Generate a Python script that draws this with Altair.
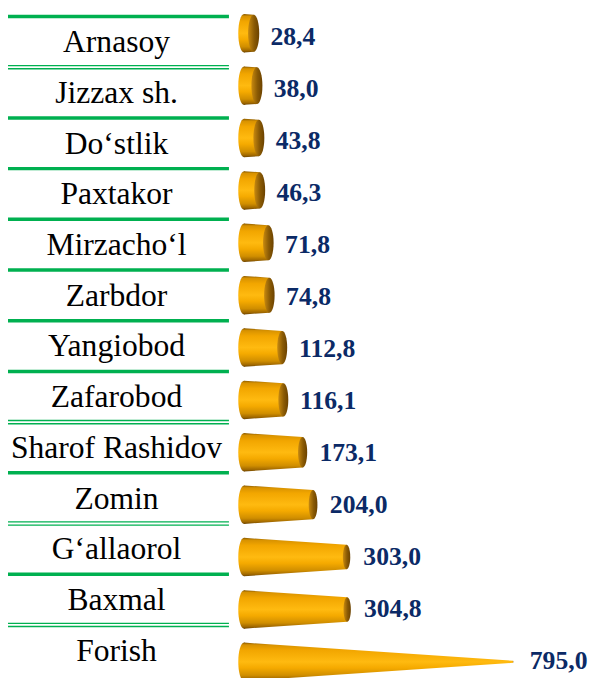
import altair as alt
import pandas as pd

categories = ["Arnasoy", "Jizzax sh.", "Do\u2018stlik", "Paxtakor", "Mirzacho\u2018l", "Zarbdor",
              "Yangiobod", "Zafarobod", "Sharof Rashidov", "Zomin", "G\u2018allaorol", "Baxmal", "Forish"]
values = [28.4, 38.0, 43.8, 46.3, 71.8, 74.8, 112.8, 116.1, 173.1, 204.0, 303.0, 304.8, 795.0]
line_styles = ["single", "double", "single", "single", "single", "single", "single",
               "single", "double", "single", "double", "single", "double"]

n = len(categories)
rows = pd.DataFrame({"cat": categories, "idx": list(range(n)), "v": values})
cone = pd.DataFrame({
    "cat": [c for c in categories for _ in (0, 1)],
    "idx": [i for i in range(n) for _ in (0, 1)],
    "pos": [p for v in values for p in (0.0, v)],
})
lines = pd.DataFrame({"k": list(range(n)), "style": line_styles})

W, H = 588, 670
K = 840          # value at which the cone converges
HALF = 0.367     # half cone height in row units
BASE = 39        # cone base height in px
SERIF = "'Liberation Serif', 'Times New Roman', Times, 'DejaVu Serif', serif"

xs = alt.Scale(domain=[0, max(values)], range=[239.3, 512], nice=False, zero=False)
ys_cone = alt.Scale(domain=[0, n - 1], range=[21, 658.2], nice=False, zero=False)
ys_val = alt.Scale(domain=[0, n - 1], range=[33.2, 665.6], nice=False, zero=False)
ys_row = alt.Scale(domain=[0, n], range=[4, 672.2], nice=False, zero=False)

body = alt.Gradient(
    gradient="linear", x1=0, x2=0, y1=0, y2=1,
    stops=[
        alt.GradientStop(offset=0, color="#8A5A00"),
        alt.GradientStop(offset=0.06, color="#D89200"),
        alt.GradientStop(offset=0.2, color="#F2A600"),
        alt.GradientStop(offset=0.5, color="#FFBA10"),
        alt.GradientStop(offset=0.66, color="#F5AA00"),
        alt.GradientStop(offset=0.85, color="#D08E00"),
        alt.GradientStop(offset=0.95, color="#A06800"),
        alt.GradientStop(offset=1, color="#6E4500"),
    ],
)
cap = alt.Gradient(
    gradient="linear", x1=0, x2=1, y1=0, y2=0,
    stops=[
        alt.GradientStop(offset=0, color="#C88A10"),
        alt.GradientStop(offset=0.55, color="#8A5A04"),
        alt.GradientStop(offset=1, color="#6B4200"),
    ],
)
ELL = "M0,-1 A0.3,1 0 1,1 0,1 A0.3,1 0 1,1 0,-1 Z"

area = alt.Chart(cone).transform_calculate(
    r=f"1 - datum.pos/{K}",
    lo=f"datum.idx - {HALF}*datum.r",
    hi=f"datum.idx + {HALF}*datum.r",
).mark_area(orient="vertical", fill=body, stroke=None, opacity=1).encode(
    x=alt.X("pos:Q", scale=xs, axis=None),
    y=alt.Y("lo:Q", scale=ys_cone, axis=None, stack=None),
    y2=alt.Y2("hi"),
    detail="cat:N",
)

start = alt.Chart(rows).transform_calculate(
    x0="0", sz=f"{BASE}*{BASE}"
).mark_point(shape=ELL, filled=True, color=body, opacity=1, strokeWidth=0).encode(
    x=alt.X("x0:Q", scale=xs, axis=None),
    y=alt.Y("idx:Q", scale=ys_cone, axis=None),
    size=alt.Size("sz:Q", scale=None, legend=None),
)

end = alt.Chart(rows).transform_calculate(
    r=f"1 - datum.v/{K}", sz=f"pow({BASE}*datum.r, 2)"
).mark_point(shape=ELL, filled=True, color=cap, opacity=1, strokeWidth=0).encode(
    x=alt.X("v:Q", scale=xs, axis=None),
    y=alt.Y("idx:Q", scale=ys_cone, axis=None),
    size=alt.Size("sz:Q", scale=None, legend=None),
)

vals = alt.Chart(rows).transform_calculate(
    lbl="replace(format(datum.v, '.1f'), '.', ',')"
).mark_text(align="left", baseline="alphabetic", dx=17, font=SERIF,
            fontSize=26, fontWeight="bold", color="#0B2A66").encode(
    x=alt.X("v:Q", scale=xs, axis=None),
    y=alt.Y("idx:Q", scale=ys_val, axis=None),
    text="lbl:N",
)

names = alt.Chart(rows).transform_calculate(mid="datum.idx + 0.5").mark_text(
    align="center", baseline="alphabetic", dy=10.5, font=SERIF,
    fontSize=32, color="#000000").encode(
    x=alt.value(110),
    y=alt.Y("mid:Q", scale=ys_row, axis=None),
    text="cat:N",
)

single = alt.Chart(lines).transform_filter("datum.style == 'single'").mark_rule(
    color="#00B050", strokeWidth=3.5).encode(
    x=alt.value(-3), x2=alt.value(224),
    y=alt.Y("k:Q", scale=ys_row, axis=None),
)
dbl_a = alt.Chart(lines).transform_filter("datum.style == 'double'").mark_rule(
    color="#00B050", strokeWidth=1.4, yOffset=-1.6).encode(
    x=alt.value(-3), x2=alt.value(224),
    y=alt.Y("k:Q", scale=ys_row, axis=None),
)
dbl_b = alt.Chart(lines).transform_filter("datum.style == 'double'").mark_rule(
    color="#00B050", strokeWidth=1.4, yOffset=1.6).encode(
    x=alt.value(-3), x2=alt.value(224),
    y=alt.Y("k:Q", scale=ys_row, axis=None),
)

chart = alt.layer(
    single, dbl_a, dbl_b, names, start, area, end, vals
).resolve_scale(y="independent").properties(
    width=W, height=H, padding=0, autosize=alt.AutoSizeParams(type="none")
).configure_view(stroke=None)

chart.save("out.html", embed_options={"renderer": "svg", "actions": False})
